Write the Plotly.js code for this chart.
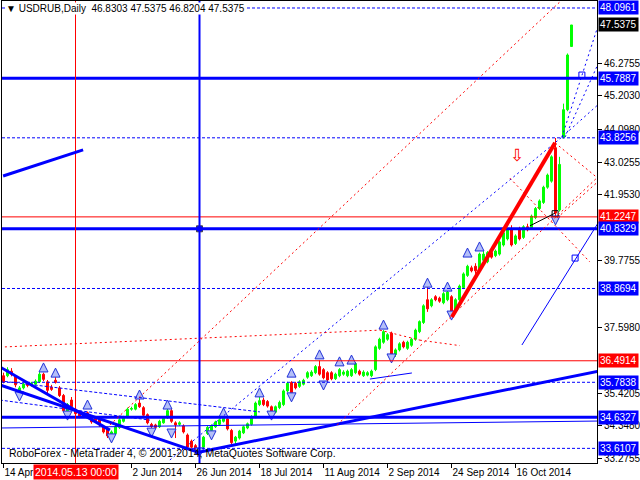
<!DOCTYPE html>
<html><head><meta charset="utf-8">
<script src="https://cdn.plot.ly/plotly-3.0.1.min.js"></script>
<style>html,body{margin:0;padding:0;background:#fff}#chart{width:640px;height:480px}</style>
</head><body><div id="chart"></div>
<script>
// ---- candle data (daily bars, index 0 = 14 Apr 2014) ----
const opens = [36.00,36.00,36.15,35.98,35.45,35.60,35.74,35.68,35.72,35.80,36.05,35.80,35.62,35.85,35.60,35.35,34.82,35.20,34.90,34.75,
34.72,34.78,34.65,34.60,34.55,34.32,34.28,33.95,34.10,34.30,34.50,34.65,34.90,34.90,35.10,34.95,34.72,34.40,34.38,34.32,
34.45,34.62,34.85,34.45,34.40,34.35,34.05,33.85,33.70,33.52,33.65,34.10,34.20,34.32,34.40,34.50,34.58,34.20,33.85,33.95,
34.12,34.28,34.40,34.65,35.05,35.20,35.15,34.98,34.80,34.95,35.05,35.50,35.78,35.75,35.65,35.72,35.95,36.00,36.10,36.30,
36.20,36.10,36.10,35.90,36.00,36.05,36.00,36.00,36.10,36.15,36.00,36.02,36.00,36.20,36.90,37.10,37.20,37.40,36.70,36.85,
37.10,36.90,37.00,37.20,37.45,37.75,38.50,38.30,38.60,38.55,38.40,38.50,38.60,38.10,38.50,38.90,39.30,39.55,39.60,39.45,
39.80,39.75,40.05,39.95,40.00,40.30,40.50,40.80,40.35,40.80,40.55,40.90,40.85,41.20,41.50,41.70,42.20,42.40,43.50,41.45,
43.85,44.75,46.8303];
const highs = [36.10,36.28,36.25,36.02,35.66,35.78,35.80,35.80,35.88,36.12,36.10,35.86,35.70,35.95,35.66,35.40,35.10,35.30,34.95,34.80,
34.78,34.82,34.70,34.66,34.60,34.38,34.32,34.20,34.38,34.60,34.68,34.95,34.98,35.10,35.25,35.00,34.76,34.45,34.42,34.55,
34.65,34.95,34.90,34.50,34.50,34.40,34.10,33.90,33.75,33.66,34.02,34.35,34.40,34.52,34.60,34.80,34.62,34.25,34.02,34.22,
34.36,34.46,34.70,35.15,35.30,35.28,35.20,35.02,35.02,35.18,35.55,35.80,35.82,35.80,35.85,35.90,36.15,36.18,36.35,36.50,
36.25,36.15,36.15,36.10,36.25,36.18,36.20,36.25,36.45,36.20,36.18,36.15,36.20,37.00,37.25,37.50,37.40,37.45,36.90,37.10,
37.15,37.15,37.25,37.55,37.82,38.35,38.95,38.55,38.65,38.60,38.75,38.85,38.65,38.55,39.00,39.40,39.65,39.62,39.70,40.05,
40.10,40.10,40.12,40.15,40.45,40.75,40.85,40.95,40.65,40.90,40.95,41.00,41.30,41.55,41.80,42.25,42.65,43.25,43.82,43.20,
44.95,46.60,47.5375];
const lows = [35.75,35.95,35.98,35.62,35.40,35.55,35.62,35.64,35.68,35.76,35.82,35.42,35.50,35.74,35.30,34.80,34.55,34.92,34.70,34.60,
34.62,34.60,34.42,34.46,34.32,34.10,33.95,33.88,34.05,34.25,34.46,34.60,34.85,34.86,34.94,34.65,34.40,34.28,34.25,34.28,
34.42,34.58,34.45,33.95,34.35,34.10,33.60,33.60,33.48,33.45,33.60,34.05,34.16,34.28,34.36,34.46,34.20,33.75,33.70,33.90,
34.08,34.24,34.36,34.60,35.00,35.00,34.95,34.70,34.76,34.90,35.00,35.45,35.35,35.55,35.60,35.68,35.90,35.96,36.05,36.00,
35.88,35.80,35.85,35.86,35.95,36.00,35.95,35.96,36.05,36.00,35.96,35.98,35.95,36.15,36.85,37.05,37.15,36.65,36.62,36.80,
36.90,36.85,36.95,37.15,37.40,37.70,38.10,38.25,38.45,38.40,38.35,38.45,37.95,38.05,38.45,38.85,39.25,39.40,39.35,39.40,
39.75,39.70,39.85,39.90,39.95,40.25,40.45,40.25,40.30,40.45,40.50,40.75,40.80,41.15,41.45,41.65,42.15,42.35,41.20,41.40,
43.80,44.70,46.8204];
const closes = [35.80,36.20,36.05,35.70,35.60,35.72,35.68,35.75,35.82,36.05,35.88,35.52,35.55,35.78,35.35,34.85,35.05,34.98,34.75,34.65,
34.68,34.65,34.48,34.52,34.38,34.15,34.02,34.15,34.32,34.55,34.62,34.90,34.92,35.05,34.98,34.70,34.45,34.33,34.30,34.50,
34.60,34.85,34.50,34.38,34.45,34.15,33.65,33.65,33.55,33.60,33.98,34.30,34.35,34.48,34.55,34.65,34.25,33.80,33.98,34.18,
34.32,34.42,34.65,35.10,35.18,35.05,35.00,34.75,34.98,35.12,35.50,35.75,35.40,35.60,35.80,35.85,36.10,36.12,36.30,36.05,
35.93,35.86,35.90,36.05,36.20,36.12,36.15,36.20,36.40,36.05,36.12,36.10,36.15,36.95,37.20,37.45,37.35,36.70,36.85,37.05,
36.95,37.10,37.20,37.50,37.78,38.30,38.20,38.50,38.50,38.45,38.70,38.75,38.00,38.50,38.95,39.35,39.60,39.45,39.45,40.00,
40.00,40.05,39.90,40.10,40.40,40.70,40.80,40.30,40.60,40.50,40.90,40.80,41.25,41.50,41.75,42.20,42.60,43.20,41.35,42.95,
44.75,46.55,47.5375];

// ---- axis labels ----
const dateTickBars = [0,32,48,64,80,96,112,128];
const dateTickText = ['14 Apr 2014','2 Jun 2014','26 Jun 2014','18 Jul 2014','11 Aug 2014','2 Sep 2014','24 Sep 2014','16 Oct 2014'];
const priceTicks = [46.2755,45.2030,44.0980,43.0255,41.9530,39.7755,37.5980,35.4205,34.3480,33.2755];
const cursorBar = 18, cursorLabel = '2014.05.13 00:00';

// ---- horizontal levels ----
const levelPrices = [48.0961,45.7887,43.8256,41.2247,40.8329,38.8694,36.4914,35.7838,34.6327,33.6107];
const levelKinds  = ['bdash','bthick','bdash','red','bthick','bdash','red','bdash','bthick','bdash'];
const lastPrice = 47.5375;

// ---- vertical lines ----
const vlineBars = [18,49];
const vlineKinds = ['red','bvert'];

// ---- trend / analysis lines: [bar0, price0, bar1, price1] ----
const lineX0 = [-0.1,-0.9,-0.9,47.9,-0.9,129.6,91.6,41.6,139.6,140.4,139.6,-0.9,-0.9,112.1,26.6,83.4,-0.9,94.1,104.1,137.9,126.6,138.4,131.6];
const lineY0 = [42.57,36.29,35.70,33.46,34.28,37.01,35.89,33.23,43.85,43.85,43.85,35.83,35.20,37.93,34.38,34.38,36.94,37.50,37.17,43.66,42.50,41.19,40.93];
const lineX1 = [19.9,26.6,49.1,149.1,149.1,149.1,102.1,139.6,149.1,149.1,149.1,64.1,36.6,137.9,139.6,149.1,94.1,104.1,114.1,149.1,146.6,149.1,137.9];
const lineY1 = [43.43,34.21,33.46,36.16,34.51,41.12,36.09,43.85,47.70,46.39,44.97,34.81,34.54,43.66,48.36,42.60,37.50,37.17,36.99,42.44,39.74,42.44,41.35];
const lineKinds = ['bthick','bthick','bthick','bthick','bthin','bthin','bthin','bdot','bdot','bdot','bdot','bdash','bdash',
                   'rthick','rdot','rdot','rdot','rdot','rdot','rdot','rdot','rdot','black'];

// ---- fractal arrows ----
const upFracBars = [10,13,21,34,41,55,64,72,79,84,87,95,106,111,116,119];
const upFracPrices = [36.42,36.25,35.20,35.53,35.20,34.94,35.60,36.25,36.85,36.62,36.68,37.83,39.21,39.08,40.20,40.40];
const dnFracBars = [4,16,27,37,42,49,52,67,72,80,97,112,138];
const dnFracPrices = [35.17,34.54,33.79,33.98,33.95,33.33,33.89,34.54,35.14,35.53,36.42,37.83,40.96];

// ---- small markers (squares) ----
const sqBars = [49,137.9,142.9,144.6];
const sqPrices = [40.8329,41.33,39.87,45.89];
const sqKinds = ['bfill','kopen','bopen','bopen'];

const signalBar = 128.4, signalPrice = 43.25;

// ===== styles =====
const BLUE = '#0000ff', RED = '#ff0000';
const styles = {
  bdash:{color:BLUE,width:1,dash:'3px,2px'},
  bthick:{color:BLUE,width:3,dash:'solid'},
  bvert:{color:BLUE,width:2,dash:'solid'},
  bthin:{color:BLUE,width:1,dash:'solid'},
  bdot:{color:BLUE,width:1,dash:'2px,3px'},
  red:{color:RED,width:1,dash:'solid'},
  rthick:{color:RED,width:4,dash:'solid'},
  rdot:{color:RED,width:1,dash:'2px,3px'},
  black:{color:'#000',width:1,dash:'solid'}
};

const bars = opens.map((_, i) => i);
const shapes = [];
levelPrices.forEach((p, k) => shapes.push({type:'line', xref:'paper', yref:'y', x0:0, x1:1, y0:p, y1:p, layer:'above', line:styles[levelKinds[k]]}));
vlineBars.forEach((b, k) => shapes.push({type:'line', xref:'x', yref:'paper', x0:b, x1:b, y0:0, y1:1, layer:'above', line:styles[vlineKinds[k]]}));
lineX0.forEach((x0, k) => shapes.push({type:'line', xref:'x', yref:'y', x0:x0, y0:lineY0[k], x1:lineX1[k], y1:lineY1[k], layer:'above', line:styles[lineKinds[k]]}));

const traces = [
  {type:'candlestick', x:bars, open:opens, high:highs, low:lows, close:closes,
   increasing:{line:{color:'#00ff00',width:1}, fillcolor:'#00ff00'},
   decreasing:{line:{color:'#ff0000',width:1}, fillcolor:'#ff0000'},
   whiskerwidth:0, hoverinfo:'skip', showlegend:false},
  {type:'scatter', mode:'markers', x:upFracBars, y:upFracPrices, hoverinfo:'skip',
   marker:{symbol:'arrow-up', size:9, color:'#b4bff8', line:{color:'#1f2fd8', width:1}}},
  {type:'scatter', mode:'markers', x:dnFracBars, y:dnFracPrices, hoverinfo:'skip',
   marker:{symbol:'arrow-down', size:9, color:'#b4bff8', line:{color:'#1f2fd8', width:1}}},
  {type:'scatter', mode:'markers', x:sqBars, y:sqPrices, hoverinfo:'skip',
   marker:{symbol:sqKinds.map(k => k === 'bfill' ? 'square' : 'square-open'), size:6,
           color:sqKinds.map(k => k === 'kopen' ? '#000' : BLUE), line:{width:1}}}
];

const annotations = [];
const boxFont = {family:'Liberation Sans, Arial, sans-serif', size:10, color:'#fff'};
levelPrices.forEach((p, k) => annotations.push({
  xref:'paper', yref:'y', x:1, y:p, xanchor:'left', yanchor:'middle', xshift:1, showarrow:false,
  text:p.toFixed(4), font:boxFont, bgcolor: levelKinds[k] === 'red' ? RED : BLUE, borderpad:1
}));
annotations.push({xref:'paper', yref:'y', x:1, y:lastPrice, xanchor:'left', yanchor:'middle', xshift:1, showarrow:false,
  text:lastPrice.toFixed(4), font:boxFont, bgcolor:'#000', borderpad:1});
const last = opens.length - 1;
annotations.push({xref:'paper', yref:'paper', x:0.005, y:0.983, xanchor:'left', yanchor:'middle', showarrow:false,
  text:'▼ USDRUB,Daily  ' + [opens[last], highs[last], lows[last], closes[last]].map(v => v.toFixed(4)).join(' '),
  font:{family:'Liberation Sans, Arial, sans-serif', size:10, color:'#000'}, bgcolor:'#fff', borderpad:0});
annotations.push({xref:'paper', yref:'paper', x:0.0084, y:0.0216, xanchor:'left', yanchor:'middle', showarrow:false,
  text:'RoboForex - MetaTrader 4, © 2001-2014, MetaQuotes Software Corp.',
  font:{family:'Liberation Sans, Arial, sans-serif', size:10.5, color:'#000'}});
annotations.push({xref:'x', yref:'paper', x:cursorBar, y:0, xanchor:'center', yanchor:'top', yshift:-1, showarrow:false,
  text:cursorLabel, font:{family:'Liberation Sans, Arial, sans-serif', size:10.5, color:'#fff'}, bgcolor:RED, borderpad:1});
annotations.push({xref:'x', yref:'y', x:signalBar, y:signalPrice, showarrow:false, text:'⇩',
  font:{family:'DejaVu Sans', size:17, color:RED}});

const layout = {
  width:640, height:480,
  margin:{l:2, r:43, t:1, b:17, pad:0},
  paper_bgcolor:'#fff', plot_bgcolor:'#fff', showlegend:false,
  font:{family:'Liberation Sans, Arial, sans-serif', size:10, color:'#000'},
  xaxis:{range:[-0.375,148.375], showgrid:false, zeroline:false, rangeslider:{visible:false},
         showline:true, mirror:true, linecolor:'#000', linewidth:1,
         ticks:'outside', ticklen:4, tickcolor:'#000', tickmode:'array', tickangle:0,
         tickvals:dateTickBars, ticktext:dateTickText, ticklabelposition:'outside right', fixedrange:true},
  yaxis:{side:'right', range:[33.129,48.326], showgrid:false, zeroline:false,
         showline:true, mirror:true, linecolor:'#000', linewidth:1,
         ticks:'outside', ticklen:4, tickcolor:'#000', tickmode:'array',
         tickvals:priceTicks, ticktext:priceTicks.map(v => v.toFixed(4)), fixedrange:true},
  shapes:shapes, annotations:annotations
};

Plotly.newPlot('chart', traces, layout, {staticPlot:true, displayModeBar:false});
</script></body></html>
